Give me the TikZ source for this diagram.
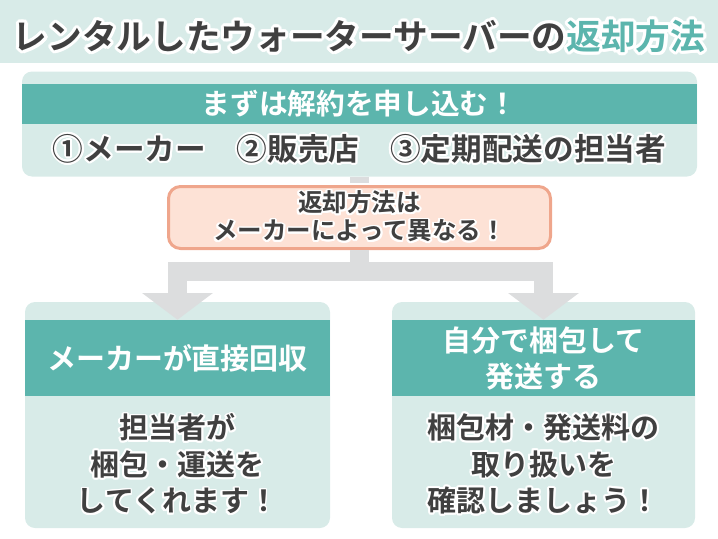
\documentclass[tikz,border=0pt]{standalone}
\usepackage{fontspec}
\setmainfont{Noto Sans CJK JP}[BoldFont={* Bold}]
\usepackage{xcolor}
\usepackage[copies]{contour}
\usetikzlibrary{arrows.meta, positioning}
\definecolor{mint}{HTML}{5CB5AD}
\definecolor{mintlight}{HTML}{D8EBE8}
\definecolor{peach}{HTML}{FDE2D6}
\definecolor{peachline}{HTML}{EFA68C}
\definecolor{arrowgray}{HTML}{DCDDDE}
\definecolor{ink}{HTML}{404040}
\contourlength{1.4pt}
\newcommand{\halo}[1]{\contour{white}{#1}}
\tikzstyle{panel}=[rectangle, rounded corners=7.5pt, fill=mintlight, inner sep=0pt]
\tikzstyle{headbar}=[rectangle, fill=mint, inner sep=0pt, text=white, align=center]
\tikzstyle{bodytext}=[inner sep=0pt, text=ink, align=center]
\tikzstyle{flow}=[draw=arrowgray, line width=14pt]

\begin{document}
\begin{tikzpicture}[x=0.75pt, y=-0.75pt, font=\bfseries]
\useasboundingbox (0,0) rectangle (718,539);

% Title
\fill[mintlight] (0,0) rectangle (718,63);
\node[bodytext, font=\bfseries\fontsize{26}{30}\selectfont] (title) at (359,38)
    {{\contourlength{2.4pt}\halo{レンタルしたウォーターサーバーの}\contour{white}{\textcolor{mint}{返却方法}}}};

% Step 1
\node[panel, minimum width=506.25pt, minimum height=78.75pt] (topbox) at (359.5,124) {};
\node[headbar, minimum width=506.25pt, minimum height=30pt,
    font=\bfseries\fontsize{21.5}{26}\selectfont] (tophead) at (359.5,104) {まずは解約を申し込む！};
\node[bodytext, font=\bfseries\fontsize{23}{28}\selectfont] (topline) at (359.5,150)
    {\halo{①メーカー　②販売店　③定期配送の担当者}};

% Note
\node[rectangle, rounded corners=9pt, fill=peach, draw=peachline, line width=2.25pt,
    minimum width=286.5pt, minimum height=46.5pt, inner sep=0pt] (mid) at (359.5,217.5) {};
\node[bodytext, font=\bfseries\fontsize{18.4}{21}\selectfont] (midtext) at (mid)
    {\halo{返却方法は}\\\halo{メーカーによって異なる！}};

% Left branch
\node[panel, minimum width=228.75pt, minimum height=169.5pt] (lbox) at (177.5,415) {};
\node[headbar, minimum width=228.75pt, minimum height=57pt,
    font=\bfseries\fontsize{21.75}{27}\selectfont] (lhead) at (177.5,358) {メーカーが直接回収};
\node[bodytext, font=\bfseries\fontsize{21.75}{27.4}\selectfont] (lbody) at (177.5,465)
    {\halo{担当者が}\\\halo{梱包・運送を}\\\halo{してくれます！}};

% Right branch
\node[panel, minimum width=227.25pt, minimum height=169.5pt] (rbox) at (543.5,415) {};
\node[headbar, minimum width=227.25pt, minimum height=57pt,
    font=\bfseries\fontsize{21.75}{27}\selectfont] (rhead) at (543.5,358) {自分で梱包して\\発送する};
\node[bodytext, font=\bfseries\fontsize{21.75}{27.4}\selectfont] (rbody) at (543.5,465)
    {\halo{梱包材・発送料の}\\\halo{取り扱いを}\\\halo{確認しましょう！}};

% Arrows
\coordinate (split) at (359.5,271.5);
\draw[flow, shorten >=1.2pt] (topbox.south) -- (mid.north);
\draw[flow, -{Triangle[width=52pt,length=20pt]}] (mid.south) -- (split) -| (lhead.north);
\draw[flow, -{Triangle[width=52pt,length=20pt]}] (mid.south) -- (split) -| (rhead.north);

\end{tikzpicture}
\end{document}
